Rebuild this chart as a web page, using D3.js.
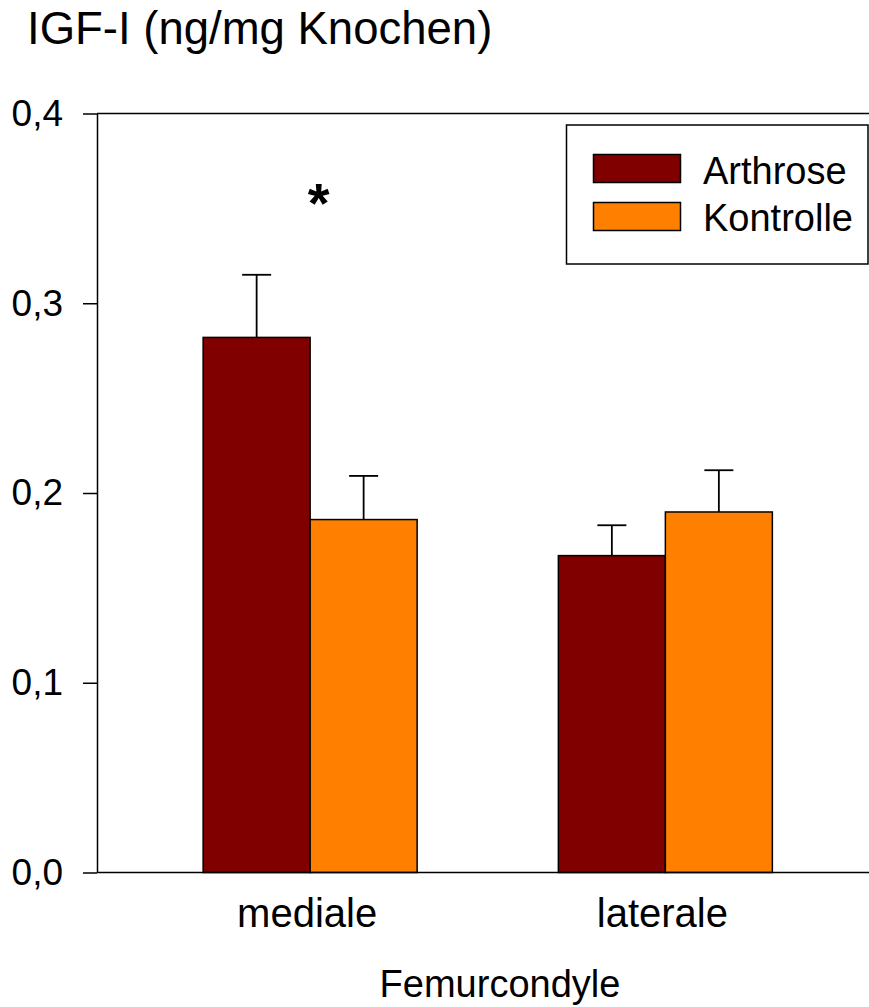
<!DOCTYPE html>
<html>
<head>
<meta charset="utf-8">
<script src="https://cdn.jsdelivr.net/npm/d3@7"></script>
<style>
  html, body { margin: 0; padding: 0; background: #fff; }
  svg { display: block; font-family: "Liberation Sans", Arial, Helvetica, sans-serif; }
</style>
</head>
<body>
<svg id="chart" width="869" height="1007"></svg>
<script>
const categories = ["mediale", "laterale"];
const seriesNames = ["Arthrose", "Kontrolle"];
const seriesColors = ["#800000", "#FF8000"];
const arthroseValues = [0.282, 0.167];
const arthroseErrors = [0.033, 0.016];
const kontrolleValues = [0.186, 0.190];
const kontrolleErrors = [0.023, 0.022];
const yTicks = [0, 0.1, 0.2, 0.3, 0.4];
const yTickLabels = ["0,0", "0,1", "0,2", "0,3", "0,4"];
const titleText = "IGF-I (ng/mg Knochen)";
const xTitle = "Femurcondyle";
const significance = ["*", ""];

const svg = d3.select("#chart");
const left = 97, right = 869;
const y = d3.scaleLinear().domain([0, 0.4]).range([872.5, 113.5]);
const x = d3.scalePoint().domain(categories).range([97, 878.5]).padding(0.6);
const barW = 107;
const sub = d3.scaleBand().domain(seriesNames).range([-barW, barW]);

const rows = [];
categories.forEach((c, i) => {
  rows.push({cat: c, s: 0, v: arthroseValues[i], e: arthroseErrors[i]});
  rows.push({cat: c, s: 1, v: kontrolleValues[i], e: kontrolleErrors[i]});
});

// error bars (drawn behind bars)
const eb = svg.append("g").attr("stroke", "#000").attr("stroke-width", 1.8);
rows.forEach(d => {
  const cx = x(d.cat) + sub(seriesNames[d.s]) + sub.bandwidth() / 2;
  eb.append("line").attr("x1", cx).attr("x2", cx).attr("y1", y(d.v)).attr("y2", y(d.v + d.e));
  eb.append("line").attr("x1", cx - 14.5).attr("x2", cx + 14.5).attr("y1", y(d.v + d.e)).attr("y2", y(d.v + d.e));
});

// bars
svg.append("g").selectAll("rect").data(rows).join("rect")
  .attr("x", d => x(d.cat) + sub(seriesNames[d.s]))
  .attr("width", sub.bandwidth())
  .attr("y", d => y(d.v))
  .attr("height", d => y(0) - y(d.v))
  .attr("fill", d => seriesColors[d.s])
  .attr("stroke", "#000").attr("stroke-width", 1.5);

// frame lines at 0 and 0.4
svg.append("g").attr("stroke", "#000").attr("stroke-width", 1.5)
  .selectAll("line").data([0, 0.4]).join("line")
  .attr("x1", left).attr("x2", right)
  .attr("y1", d => y(d)).attr("y2", d => y(d));

// y axis
const yAxis = svg.append("g").attr("transform", `translate(${left},0)`)
  .call(d3.axisLeft(y).tickValues(yTicks).tickFormat((d, i) => yTickLabels[i]).tickSize(14).tickSizeOuter(0).tickPadding(20));
yAxis.select(".domain").attr("stroke-width", 1.5);
yAxis.selectAll(".tick line").attr("stroke-width", 1.5);
yAxis.selectAll(".tick text").attr("font-size", 37).attr("fill", "#000")
  .attr("font-family", "'Liberation Sans', Arial, sans-serif");

// x category labels
svg.append("g").selectAll("text").data(categories).join("text")
  .attr("x", d => x(d) - 3).attr("y", 927)
  .attr("text-anchor", "middle").attr("font-size", 40).attr("fill", "#000")
  .text(d => d);

// x title
svg.append("text").attr("x", 500).attr("y", 997).attr("text-anchor", "middle")
  .attr("font-size", 38).attr("fill", "#000").text(xTitle);

// chart title
svg.append("text").attr("x", 27).attr("y", 44).attr("font-size", 45.5).attr("fill", "#000").text(titleText);

// significance
svg.append("g").selectAll("text").data(categories).join("text")
  .attr("x", (d, i) => x(d) + sub(seriesNames[0]) + sub.bandwidth() / 2 + 62)
  .attr("y", 222).attr("text-anchor", "middle").attr("font-size", 56).attr("font-weight", "bold")
  .attr("fill", "#000").text((d, i) => significance[i]);

// legend
const lg = svg.append("g");
lg.append("rect").attr("x", 566.5).attr("y", 125).attr("width", 301.5).attr("height", 139)
  .attr("fill", "#fff").attr("stroke", "#000").attr("stroke-width", 1.5);
seriesNames.forEach((n, i) => {
  lg.append("rect").attr("x", 593.5).attr("y", 154.5 + i * 48).attr("width", 87).attr("height", 28)
    .attr("fill", seriesColors[i]).attr("stroke", "#000").attr("stroke-width", 1.5);
  lg.append("text").attr("x", 703).attr("y", 184 + i * 47).attr("font-size", 38).attr("fill", "#000").text(n);
});
</script>
</body>
</html>
